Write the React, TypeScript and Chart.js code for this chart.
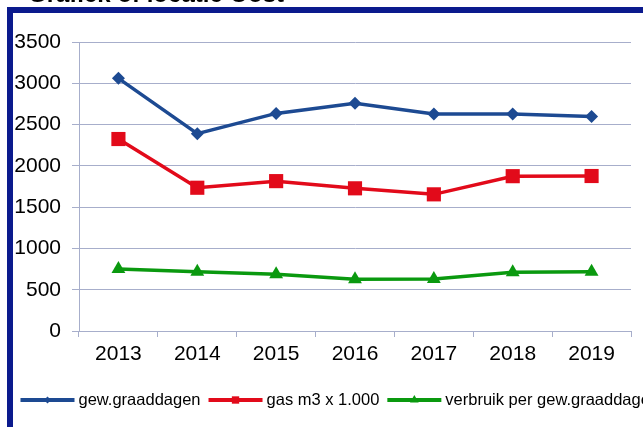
import React, { useEffect, useRef } from 'react';
import { Chart, registerables } from 'chart.js';
import { drawPoint } from 'chart.js/helpers';

Chart.register(...registerables);

const years = ['2013', '2014', '2015', '2016', '2017', '2018', '2019'];
const graaddagen = [3060, 2390, 2635, 2757, 2628, 2628, 2598];
const gasM3 = [2325, 1735, 1815, 1728, 1655, 1875, 1877];
const verbruik = [751, 718, 687, 626, 630, 711, 718];
const seriesLabels = ['gew.graaddagen', 'gas m3 x 1.000', 'verbruik per gew.graaddagen'];
const yMin = 0;
const yMax = 3500;
const yStep = 500;
const titleText = 'Grafiek of locatie Oost';

const FONT = '"Liberation Sans", Arial, sans-serif';
const GRID = '#a7aecb';
const BLUE = '#1d4a92';
const RED = '#e20a1a';
const GREEN = '#0a990f';
const FRAME = '#0b1a8d';

const legendRadius = [3.5, 5.2, 5];

const framePlugin = {
  id: 'frame',
  beforeDraw(chart: any) {
    const ctx = chart.ctx;
    ctx.save();
    ctx.fillStyle = '#ffffff';
    ctx.fillRect(0, 0, chart.width, chart.height);
    ctx.fillStyle = '#000';
    ctx.font = 'bold 24px ' + FONT;
    ctx.textBaseline = 'alphabetic';
    ctx.textAlign = 'left';
    ctx.fillText(titleText, 28, 2);
    ctx.fillStyle = '#ffffff';
    ctx.fillRect(0, 3, chart.width, 4);
    ctx.fillStyle = FRAME;
    ctx.fillRect(7, 7, chart.width - 7, 6);
    ctx.fillRect(7, 7, 6, chart.height - 7);
    ctx.restore();
  },
};

const legendPlugin = {
  id: 'customLegend',
  afterDraw(chart: any) {
    const ctx = chart.ctx;
    ctx.save();
    ctx.font = '16.5px ' + FONT;
    ctx.textBaseline = 'middle';
    ctx.textAlign = 'left';
    let x = 20.5;
    const y = 400;
    chart.data.datasets.forEach((ds: any, i: number) => {
      ctx.strokeStyle = ds.borderColor;
      ctx.lineWidth = 4;
      ctx.beginPath();
      ctx.moveTo(x, y);
      ctx.lineTo(x + 54, y);
      ctx.stroke();
      ctx.fillStyle = ds.borderColor;
      drawPoint(ctx, { pointStyle: ds.pointStyle, radius: legendRadius[i], borderWidth: 0, rotation: 0 } as any, x + 27, y);
      ctx.fillStyle = '#000';
      ctx.fillText(ds.label, x + 58, y);
      x += 58 + ctx.measureText(ds.label).width + 8;
    });
    ctx.restore();
  },
};

export default function App() {
  const ref = useRef<HTMLCanvasElement | null>(null);

  useEffect(() => {
    if (!ref.current) return;
    const tickFont = { family: FONT, size: 21 };
    const chart = new Chart(ref.current, {
      type: 'line',
      data: {
        labels: years,
        datasets: [
          {
            label: seriesLabels[0],
            data: graaddagen,
            borderColor: BLUE,
            backgroundColor: BLUE,
            borderWidth: 3.5,
            pointStyle: 'rectRot',
            pointRadius: 6.5,
            pointBorderWidth: 0,
            pointBackgroundColor: BLUE,
          },
          {
            label: seriesLabels[1],
            data: gasM3,
            borderColor: RED,
            backgroundColor: RED,
            borderWidth: 3.5,
            pointStyle: 'rect',
            pointRadius: 10,
            pointBorderWidth: 0,
            pointBackgroundColor: RED,
          },
          {
            label: seriesLabels[2],
            data: verbruik,
            borderColor: GREEN,
            backgroundColor: GREEN,
            borderWidth: 3.5,
            pointStyle: 'triangle',
            pointRadius: 8,
            pointBorderWidth: 0,
            pointBackgroundColor: GREEN,
          },
        ],
      },
      options: {
        responsive: false,
        animation: false,
        layout: { padding: { top: 42, right: 12, left: 0, bottom: 0 } },
        plugins: {
          legend: { display: false },
          tooltip: { enabled: false },
          title: { display: false },
        },
        scales: {
          x: {
            offset: true,
            grid: { display: true, offset: true, drawOnChartArea: false, drawTicks: true, tickLength: 6, color: GRID },
            border: { color: GRID, width: 1 },
            ticks: { font: tickFont, color: '#000', padding: 5, maxRotation: 0 },
            afterFit: (s: any) => {
              s.height = 96;
            },
          },
          y: {
            min: yMin,
            max: yMax,
            ticks: { stepSize: yStep, font: tickFont, color: '#000', padding: 11, callback: (v: any) => String(v) },
            grid: { color: GRID, tickLength: 7 },
            border: { color: GRID, width: 1 },
            afterFit: (s: any) => {
              s.width = 79;
            },
          },
        },
      } as any,
      plugins: [framePlugin, legendPlugin],
    });
    return () => chart.destroy();
  }, []);

  return (
    <div style={{ position: 'fixed', left: 0, top: 0, width: 643, height: 427, overflow: 'hidden', background: '#fff' }}>
      <canvas ref={ref} width={643} height={427} style={{ width: 643, height: 427, display: 'block' }} />
    </div>
  );
}
